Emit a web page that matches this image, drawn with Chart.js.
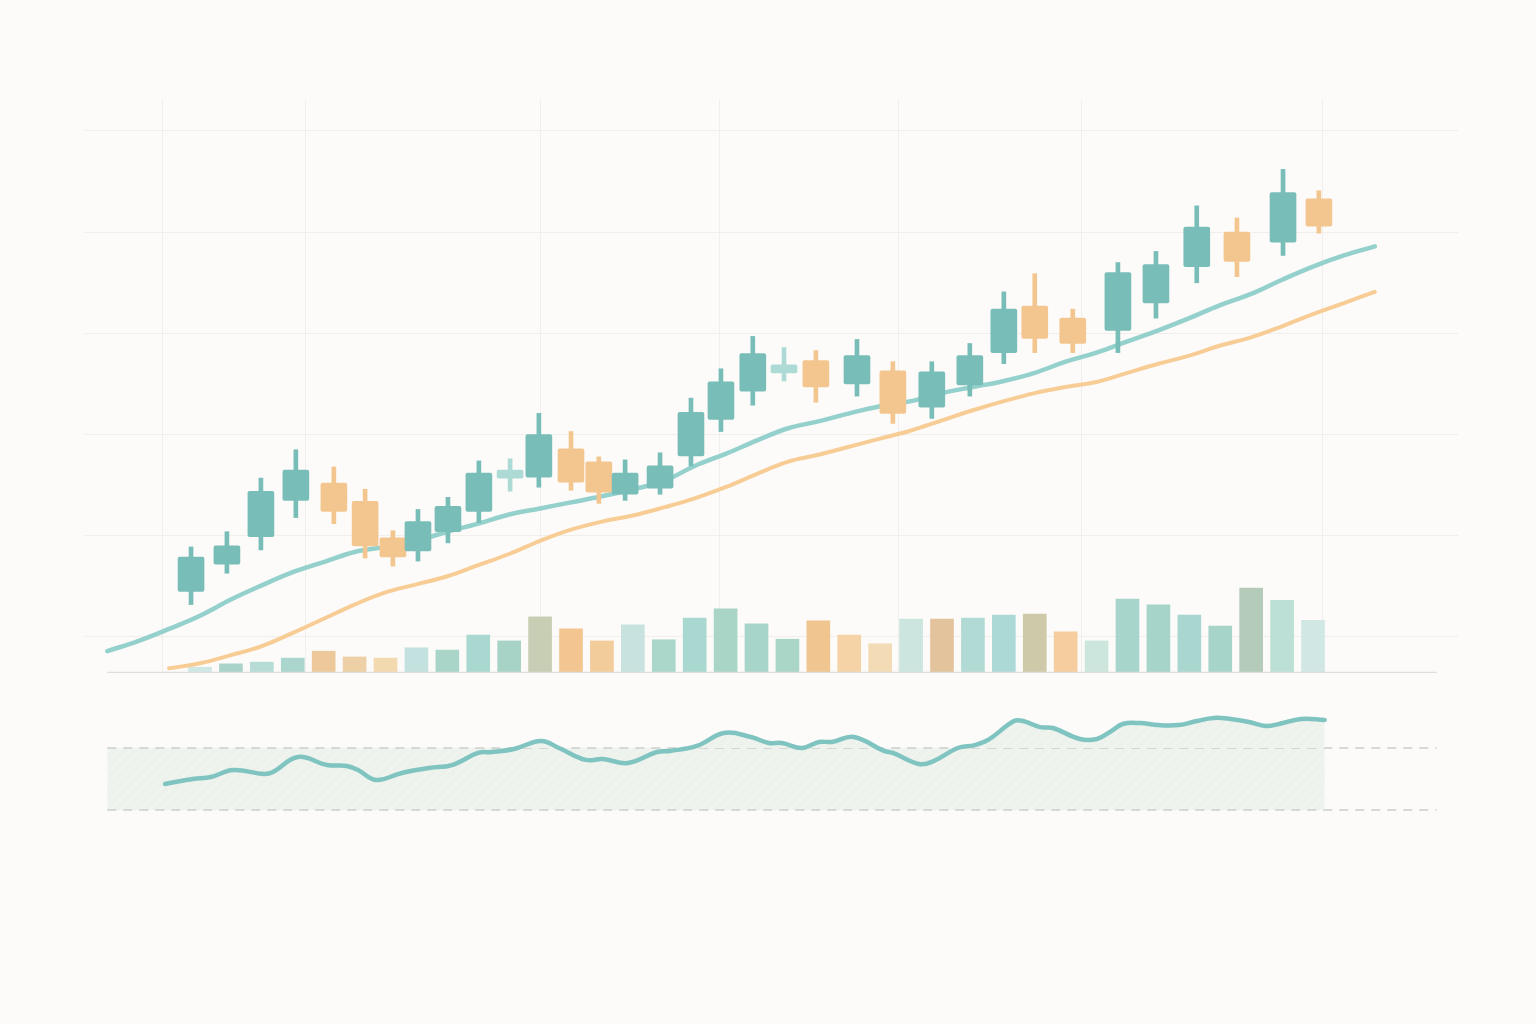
<!DOCTYPE html>
<html>
<head>
<meta charset="utf-8">
<script src="https://cdn.jsdelivr.net/npm/chart.js@4.4.1/dist/chart.umd.min.js"></script>
<style>
  html, body { margin: 0; padding: 0; background: #fcfbf9; }
  #wrap { position: relative; width: 1536px; height: 1024px; }
  canvas { position: absolute; left: 0; }
  #price { top: 0; }
  #osc { top: 680px; }
</style>
</head>
<body>
<div id="wrap">
  <canvas id="price" width="1536" height="690"></canvas>
  <canvas id="osc" width="1536" height="200"></canvas>
</div>
<script>
/* --- DATA --- */
// x = trading session; volume bars sit on whole sessions, candles drift a bit
const candleX = [-0.29, 0.87, 1.97, 3.10, 4.33, 5.34, 6.24, 7.05, 8.02, 9.02, 10.03, 10.96, 12.00, 12.90, 13.75, 14.88, 15.88,
                 16.85, 17.88, 18.89, 19.92, 21.25, 22.41, 23.67, 24.90, 26.00, 27.00, 28.23, 29.69, 30.92, 32.24, 33.54, 35.03, 36.19];
const opens  = [14.5, 17.2, 19.9, 23.5, 25.2, 23.4, 19.8, 18.5, 20.4, 22.4, 25.7, 25.8, 28.6, 27.3, 24.1, 24.7, 27.9,
                31.5, 34.3, 36.1, 37.3, 35.0, 36.3, 32.7, 34.9, 38.1, 42.7, 41.5, 40.3, 43.0, 46.6, 50.0, 49.0, 53.3];
const highs  = [18.9, 20.4, 25.7, 28.5, 26.8, 24.6, 20.5, 22.6, 23.8, 27.4, 27.6, 32.1, 30.3, 27.8, 27.5, 28.2, 33.6,
                36.5, 39.7, 38.6, 38.3, 39.4, 37.2, 37.2, 39.0, 44.1, 45.9, 42.4, 47.0, 48.1, 52.6, 51.4, 56.2, 54.1];
const lows   = [13.2, 16.3, 18.6, 21.8, 21.2, 17.8, 17.0, 17.5, 19.3, 21.3, 24.4, 24.8, 24.5, 23.2, 23.5, 24.1, 26.9,
                30.3, 32.9, 35.3, 33.2, 33.8, 31.1, 31.6, 33.8, 37.0, 38.1, 38.1, 38.1, 41.5, 45.0, 45.6, 47.7, 49.9];
const closes = [17.9, 19.0, 24.4, 26.5, 22.4, 19.0, 17.9, 21.4, 22.9, 26.2, 26.5, 30.0, 25.3, 24.3, 26.2, 26.9, 32.2,
                35.2, 38.0, 36.9, 34.7, 37.8, 32.1, 36.2, 37.8, 42.4, 39.5, 39.0, 46.0, 46.8, 50.5, 47.1, 53.9, 50.6];

const volumes = [1.0, 1.6, 1.9, 2.6, 3.8, 2.8, 2.6, 4.4, 4.0, 6.6, 5.6, 9.8, 7.7, 5.6, 8.4, 5.8, 9.6, 11.2, 8.6,
                 5.9, 9.1, 6.6, 5.1, 9.4, 9.4, 9.6, 10.1, 10.3, 7.2, 5.6, 12.9, 11.9, 10.1, 8.2, 14.8, 12.7, 9.2];
const volumeColors = ['#cfe8e6', '#a9d3c8', '#b7dcd6', '#aad6cd', '#ecc89a', '#edd0a5', '#f3d9b0', '#c3e1de', '#a9d5c9',
                      '#a9d8d0', '#a6d3c6', '#c8ceb3', '#f2c591', '#f3cc9b', '#c8e3df', '#aad7ca', '#a9d8d0', '#a8d5c5',
                      '#a8d5c9', '#a9d6c7', '#f0c590', '#f5d3a6', '#f3dbb5', '#cce5de', '#e2c39c', '#b1dad5', '#acd9d5',
                      '#cdc9a9', '#f5cd9e', '#cde6dd', '#a8d5cb', '#a6d4c9', '#a9d6cf', '#a7d4c8', '#b3cbb8', '#bde0d6', '#d0e7e3'];

// moving averages, one value per session
const fastStart = -3;
const fastMA = [8.6, 9.6, 10.8, 12.1, 13.7, 15.1, 16.4, 17.4, 18.4, 18.9, 19.5, 20.4, 21.2, 22.1, 22.7, 23.3, 23.9, 24.6,
                25.4, 26.9, 28.1, 29.4, 30.6, 31.3, 32.1, 32.8, 33.3, 34.1, 34.7, 35.3, 36.1, 37.2, 38.1, 39.2, 40.3,
                41.5, 42.8, 43.9, 45.3, 46.6, 47.7, 48.6];
const slowStart = -1;
const slowMA = [6.9, 7.4, 8.2, 9.1, 10.4, 11.8, 13.2, 14.4, 15.2, 16.0, 17.1, 18.2, 19.5, 20.6, 21.4, 22.0, 22.8, 23.7,
                24.8, 26.1, 27.3, 28.0, 28.8, 29.6, 30.4, 31.4, 32.4, 33.3, 34.1, 34.7, 35.2, 36.1, 37.0, 37.8, 38.8,
                39.6, 40.7, 41.9, 43.0, 44.1];

// oscillator
const oscX = [-1.13, -0.23, 0.36, 1.07, 2.07, 2.36, 3.17, 4.11, 4.75, 5.11, 5.69, 6.53, 7.41, 8.15, 8.99, 9.44, 10.16,
              11.03, 11.61, 12.48, 13.03, 13.84, 14.78, 15.20, 16.07, 16.95, 17.82, 18.40, 18.82, 19.47, 20.02, 20.44,
              21.15, 22.12, 22.41, 23.25, 23.67, 24.51, 25.06, 25.49, 26.33, 26.62, 27.17, 27.59, 28.46, 29.01, 29.43,
              29.85, 30.40, 30.98, 31.66, 32.24, 32.79, 33.34, 33.93, 34.48, 34.90, 35.61, 36.38];
const oscY = [46.8, 50.0, 51.3, 55.8, 53.2, 54.5, 64.2, 59.0, 58.4, 55.8, 49.4, 53.9, 57.1, 59.0, 66.8, 67.4, 69.4,
              74.5, 70.0, 62.3, 62.9, 60.3, 67.4, 68.1, 71.3, 79.7, 77.1, 73.2, 73.2, 70.0, 73.9, 73.9,
              77.1, 68.1, 66.8, 59.7, 61.0, 70.0, 71.9, 75.2, 87.4, 87.4, 83.5, 82.9, 75.8, 75.8, 80.3,
              85.5, 86.1, 84.8, 84.8, 87.4, 89.4, 88.7, 86.8, 84.2, 85.5, 88.7, 88.1];
const levels = [70, 30];

// axis / grid values
const priceGrid = [10, 20, 30, 40, 50, 60];
const sessionGrid = [-1.2, 3.4, 11.0, 16.8, 22.6, 28.5, 36.3];
const firstSession = -3;
const lastSession = 40;

/* --- STYLE --- */
const TEAL = '#79bdb8';
const ORANGE = '#f4c68f';
const DOJI = '#aedad6';
const MA_TEAL = '#94d0cc';
const MA_ORANGE = '#f8cd95';
const OSC_LINE = '#7fc4c0';
const GRID = '#f1efec';
const X_RANGE = { min: -3.72, max: 40.69 };

const candleColor = opens.map((o, i) => {
  if (Math.abs(closes[i] - o) < 1) return DOJI;
  return closes[i] > o ? TEAL : ORANGE;
});

function hatch() {
  const c = document.createElement('canvas');
  c.width = 10; c.height = 10;
  const g = c.getContext('2d');
  g.fillStyle = '#eef2ec';
  g.fillRect(0, 0, 10, 10);
  g.strokeStyle = 'rgba(255,255,255,0.4)';
  g.lineWidth = 1;
  g.beginPath(); g.moveTo(0, 10); g.lineTo(10, 0); g.stroke();
  return g.createPattern(c, 'repeat');
}

const hidden = { display: false };

/* --- PRICE + VOLUME --- */
new Chart(document.getElementById('price'), {
  type: 'line',
  data: {
    datasets: [
      {
        type: 'bar',
        data: volumes.map((v, i) => ({ x: i, y: v })),
        yAxisID: 'vol',
        backgroundColor: volumeColors,
        barThickness: 23,
        grouped: false,
        order: 6
      },
      {
        data: [{ x: firstSession, y: 0 }, { x: lastSession, y: 0 }],
        yAxisID: 'vol',
        borderColor: '#dfdedb',
        borderWidth: 2.5,
        pointRadius: 0,
        order: 5
      },
      {
        data: slowMA.map((v, i) => ({ x: slowStart + i, y: v })),
        yAxisID: 'y',
        borderColor: MA_ORANGE,
        borderWidth: 4,
        borderCapStyle: 'round',
        pointRadius: 0,
        tension: 0.4,
        order: 4
      },
      {
        data: fastMA.map((v, i) => ({ x: fastStart + i, y: v })),
        yAxisID: 'y',
        borderColor: MA_TEAL,
        borderWidth: 4.5,
        borderCapStyle: 'round',
        pointRadius: 0,
        tension: 0.4,
        order: 3
      },
      {
        type: 'bar',
        data: candleX.map((x, i) => ({ x: x, y: [lows[i], highs[i]] })),
        yAxisID: 'y',
        backgroundColor: candleColor,
        barThickness: 4,
        grouped: false,
        order: 2
      },
      {
        type: 'bar',
        data: candleX.map((x, i) => ({ x: x, y: [opens[i], closes[i]] })),
        yAxisID: 'y',
        backgroundColor: candleColor,
        barThickness: 26,
        borderRadius: 2,
        borderSkipped: false,
        grouped: false,
        order: 1
      }
    ]
  },
  options: {
    responsive: false,
    animation: false,
    layout: { padding: { left: 85, right: 78, top: 100, bottom: 17 } },
    plugins: { legend: hidden, tooltip: { enabled: false } },
    scales: {
      x: {
        type: 'linear',
        min: X_RANGE.min,
        max: X_RANGE.max,
        offset: false,
        afterBuildTicks: s => { s.ticks = sessionGrid.map(v => ({ value: v })); },
        ticks: { display: false },
        grid: { color: GRID, drawTicks: false, offset: false },
        border: { display: false }
      },
      y: {
        min: 6.44,
        max: 63.06,
        afterBuildTicks: s => { s.ticks = priceGrid.map(v => ({ value: v })); },
        ticks: { display: false },
        grid: { color: GRID, drawTicks: false },
        border: { display: false }
      },
      vol: { min: 0, max: 100, display: false }
    }
  }
});

/* --- OSCILLATOR --- */
const shade = hatch();
new Chart(document.getElementById('osc'), {
  type: 'line',
  data: {
    datasets: [
      {
        data: [{ x: firstSession, y: levels[0] }, { x: oscX[oscX.length - 1], y: levels[0] }],
        borderWidth: 0,
        pointRadius: 0,
        fill: { value: levels[1] },
        backgroundColor: shade,
        order: 4
      },
      ...levels.map(lv => ({
        data: [{ x: firstSession, y: lv }, { x: lastSession, y: lv }],
        borderColor: '#cbcfcc',
        borderWidth: 1.5,
        borderDash: [9, 7],
        pointRadius: 0,
        order: 2
      })),
      {
        data: oscX.map((x, i) => ({ x: x, y: oscY[i] })),
        borderColor: OSC_LINE,
        borderWidth: 4.5,
        borderCapStyle: 'round',
        pointRadius: 0,
        tension: 0.4,
        fill: { target: { value: levels[0] }, above: shade, below: 'rgba(0,0,0,0)' },
        order: 1
      }
    ]
  },
  options: {
    responsive: false,
    animation: false,
    layout: { padding: { left: 85, right: 78, top: 21.5, bottom: 23.5 } },
    plugins: { legend: hidden, tooltip: { enabled: false } },
    scales: {
      x: { type: 'linear', min: X_RANGE.min, max: X_RANGE.max, display: false },
      y: { min: 0, max: 100, display: false }
    }
  }
});
</script>
</body>
</html>
